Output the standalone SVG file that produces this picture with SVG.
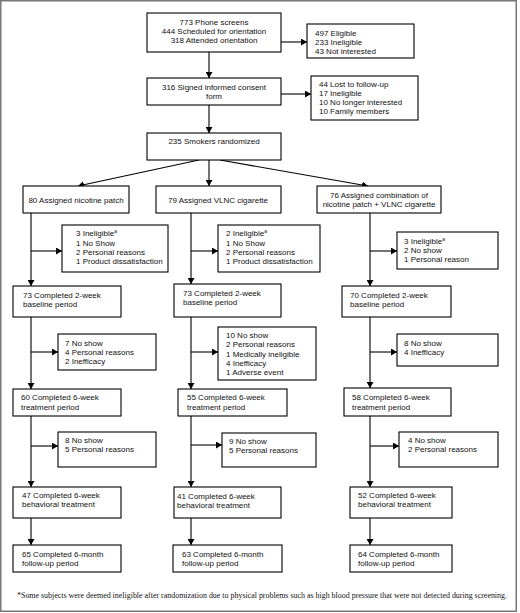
<svg xmlns="http://www.w3.org/2000/svg" width="520" height="613" viewBox="0 0 520 613">
<defs>
<marker id="ah" markerUnits="userSpaceOnUse" markerWidth="7" markerHeight="7" refX="6" refY="3.5" orient="auto">
<path d="M0,0 L6,3.5 L0,7 Z" fill="#000"/>
</marker>
<style>
.b{fill:#fff;stroke:#000;stroke-width:1.1}
text{font-family:"Liberation Sans",Arial,sans-serif;font-size:8px;fill:#111}
.c{text-anchor:middle}
.sup{font-size:5px}
.fn{font-family:"Liberation Serif","Times New Roman",serif;font-size:7.4px}
.k line{stroke:#000;stroke-width:1.1}
.k .a{marker-end:url(#ah)}
</style>
</defs>
<rect x="0" y="0" width="520" height="613" fill="#fff"/>
<rect x="0.75" y="0.75" width="515.5" height="610.5" fill="none" stroke="#777" stroke-width="1.5"/>

<g class="k" id="connectors">
<line class="a" x1="209" y1="52" x2="209" y2="78"/>
<line class="a" x1="281" y1="42" x2="307" y2="42"/>
<line class="a" x1="209" y1="105" x2="209" y2="133"/>
<line class="a" x1="281" y1="94" x2="311" y2="94"/>
<line class="a" x1="209" y1="160" x2="209" y2="186"/>
<line class="a" x1="199" y1="160" x2="78" y2="186"/>
<line class="a" x1="220" y1="160" x2="368" y2="186"/>

<line class="a" x1="31" y1="213" x2="31" y2="286"/>
<line class="a" x1="31" y1="251" x2="62" y2="251"/>
<line class="a" x1="31" y1="317" x2="31" y2="389"/>
<line class="a" x1="31" y1="352" x2="58" y2="352"/>
<line class="a" x1="31" y1="416" x2="31" y2="487"/>
<line class="a" x1="31" y1="446" x2="58" y2="446"/>
<line class="a" x1="31" y1="518" x2="31" y2="545"/>

<line class="a" x1="191" y1="213" x2="191" y2="284"/>
<line class="a" x1="191" y1="251" x2="218" y2="251"/>
<line class="a" x1="191" y1="317" x2="191" y2="389"/>
<line class="a" x1="191" y1="352" x2="218" y2="352"/>
<line class="a" x1="191" y1="416" x2="191" y2="487"/>
<line class="a" x1="191" y1="445" x2="222" y2="445"/>
<line class="a" x1="191" y1="518" x2="191" y2="545"/>

<line class="a" x1="370" y1="213" x2="370" y2="286"/>
<line class="a" x1="370" y1="251" x2="397" y2="251"/>
<line class="a" x1="370" y1="317" x2="370" y2="388"/>
<line class="a" x1="370" y1="352" x2="397" y2="352"/>
<line class="a" x1="370" y1="416" x2="370" y2="487"/>
<line class="a" x1="370" y1="446" x2="399" y2="446"/>
<line class="a" x1="370" y1="518" x2="370" y2="545"/>
</g>

<g id="n-screens"><rect class="b" x="147" y="13" width="134" height="39"/>
<text class="c" x="214" y="25">773 Phone screens</text>
<text class="c" x="214" y="34">444 Scheduled for orientation</text>
<text class="c" x="214" y="43">318 Attended orientation</text></g>

<g id="n-excl1"><rect class="b" x="307" y="24" width="107" height="34"/>
<text x="315" y="36">497 Eligible</text>
<text x="315" y="45">233 Ineligible</text>
<text x="315" y="54">43 Not interested</text></g>

<g id="n-consent"><rect class="b" x="147" y="78" width="134" height="27"/>
<text class="c" x="214" y="90">316 Signed informed consent</text>
<text class="c" x="214" y="99">form</text></g>

<g id="n-excl2"><rect class="b" x="311" y="76" width="107" height="44"/>
<text x="319" y="87">44 Lost to follow-up</text>
<text x="319" y="96">17 Ineligible</text>
<text x="319" y="105">10 No longer interested</text>
<text x="319" y="114">10 Family members</text></g>

<g id="n-rand"><rect class="b" x="147" y="133" width="134" height="27"/>
<text class="c" x="214" y="144">235 Smokers randomized</text></g>

<g id="n-patch"><rect class="b" x="23" y="186" width="106" height="27"/>
<text class="c" x="76" y="203">80 Assigned nicotine patch</text></g>

<g id="n-vlnc"><rect class="b" x="156" y="186" width="125" height="27"/>
<text class="c" x="218" y="203">79 Assigned VLNC cigarette</text></g>

<g id="n-combo"><rect class="b" x="317" y="186" width="124" height="27"/>
<text class="c" x="379" y="198">76 Assigned combination of</text>
<text class="c" x="379" y="207">nicotine patch + VLNC cigarette</text></g>

<g id="n-l-ex1"><rect class="b" x="62" y="225" width="106" height="47"/>
<text x="76" y="236">3 Ineligible<tspan class="sup" dy="-3">a</tspan></text>
<text x="76" y="246">1 No Show</text>
<text x="76" y="255">2 Personal reasons</text>
<text x="76" y="264">1 Product dissatisfaction</text></g>

<g id="n-m-ex1"><rect class="b" x="218" y="225" width="102" height="47"/>
<text x="226" y="236">2 Ineligible<tspan class="sup" dy="-3">a</tspan></text>
<text x="226" y="246">1 No Show</text>
<text x="226" y="255">2 Personal reasons</text>
<text x="226" y="264">1 Product dissatisfaction</text></g>

<g id="n-r-ex1"><rect class="b" x="397" y="232" width="101" height="37"/>
<text x="404" y="244">3 Ineligible<tspan class="sup" dy="-3">a</tspan></text>
<text x="404" y="253">2 No show</text>
<text x="404" y="262">1 Personal reason</text></g>

<g id="n-l-base"><rect class="b" x="13" y="286" width="108" height="31"/>
<text x="23" y="298">73 Completed 2-week</text>
<text x="23" y="307">baseline period</text></g>

<g id="n-m-base"><rect class="b" x="174" y="284" width="107" height="33"/>
<text x="183" y="296">73 Completed 2-week</text>
<text x="183" y="305">baseline period</text></g>

<g id="n-r-base"><rect class="b" x="342" y="286" width="109" height="31"/>
<text x="350" y="298">70 Completed 2-week</text>
<text x="350" y="307">baseline period</text></g>

<g id="n-l-ex2"><rect class="b" x="58" y="334" width="98" height="36"/>
<text x="65" y="346">7 No show</text>
<text x="65" y="355">4 Personal reasons</text>
<text x="65" y="364">2 Inefficacy</text></g>

<g id="n-m-ex2"><rect class="b" x="218" y="327" width="98" height="53"/>
<text x="226" y="338">10 No show</text>
<text x="226" y="347">2 Personal reasons</text>
<text x="226" y="357">1 Medically ineligible</text>
<text x="226" y="366">4 Inefficacy</text>
<text x="226" y="375">1 Adverse event</text></g>

<g id="n-r-ex2"><rect class="b" x="397" y="334" width="101" height="32"/>
<text x="404" y="346">8 No show</text>
<text x="404" y="355">4 Inefficacy</text></g>

<g id="n-l-treat"><rect class="b" x="13" y="389" width="108" height="27"/>
<text x="21" y="400">60 Completed 6-week</text>
<text x="21" y="410">treatment period</text></g>

<g id="n-m-treat"><rect class="b" x="178" y="389" width="109" height="27"/>
<text x="187" y="400">55 Completed 6-week</text>
<text x="187" y="410">treatment period</text></g>

<g id="n-r-treat"><rect class="b" x="344" y="388" width="107" height="28"/>
<text x="352" y="400">58 Completed 6-week</text>
<text x="352" y="410">treatment period</text></g>

<g id="n-l-ex3"><rect class="b" x="58" y="432" width="98" height="35"/>
<text x="65" y="443">8 No show</text>
<text x="65" y="452">5 Personal reasons</text></g>

<g id="n-m-ex3"><rect class="b" x="222" y="433" width="94" height="34"/>
<text x="229" y="444">9 No show</text>
<text x="229" y="453">5 Personal reasons</text></g>

<g id="n-r-ex3"><rect class="b" x="399" y="432" width="99" height="35"/>
<text x="408" y="443">4 No show</text>
<text x="408" y="452">2 Personal reasons</text></g>

<g id="n-l-beh"><rect class="b" x="13" y="487" width="108" height="31"/>
<text x="22" y="498">47 Completed 6-week</text>
<text x="22" y="507">behavioral treatment</text></g>

<g id="n-m-beh"><rect class="b" x="174" y="487" width="107" height="31"/>
<text x="177" y="499">41 Completed 6-week</text>
<text x="177" y="508">behavioral treatment</text></g>

<g id="n-r-beh"><rect class="b" x="350" y="487" width="102" height="31"/>
<text x="358" y="498">52 Completed 6-week</text>
<text x="358" y="507">behavioral treatment</text></g>

<g id="n-l-fu"><rect class="b" x="13" y="545" width="108" height="27"/>
<text x="22" y="557">65 Completed 6-month</text>
<text x="22" y="566">follow-up period</text></g>

<g id="n-m-fu"><rect class="b" x="173" y="545" width="109" height="27"/>
<text x="182" y="557">63 Completed 6-month</text>
<text x="182" y="566">follow-up period</text></g>

<g id="n-r-fu"><rect class="b" x="350" y="545" width="102" height="27"/>
<text x="358" y="557">64 Completed 6-month</text>
<text x="358" y="566">follow-up period</text></g>

<text class="fn" x="17" y="598" textLength="490" lengthAdjust="spacingAndGlyphs">*Some subjects were deemed ineligible after randomization due to physical problems such as high blood pressure that were not detected during screening.</text>
</svg>
